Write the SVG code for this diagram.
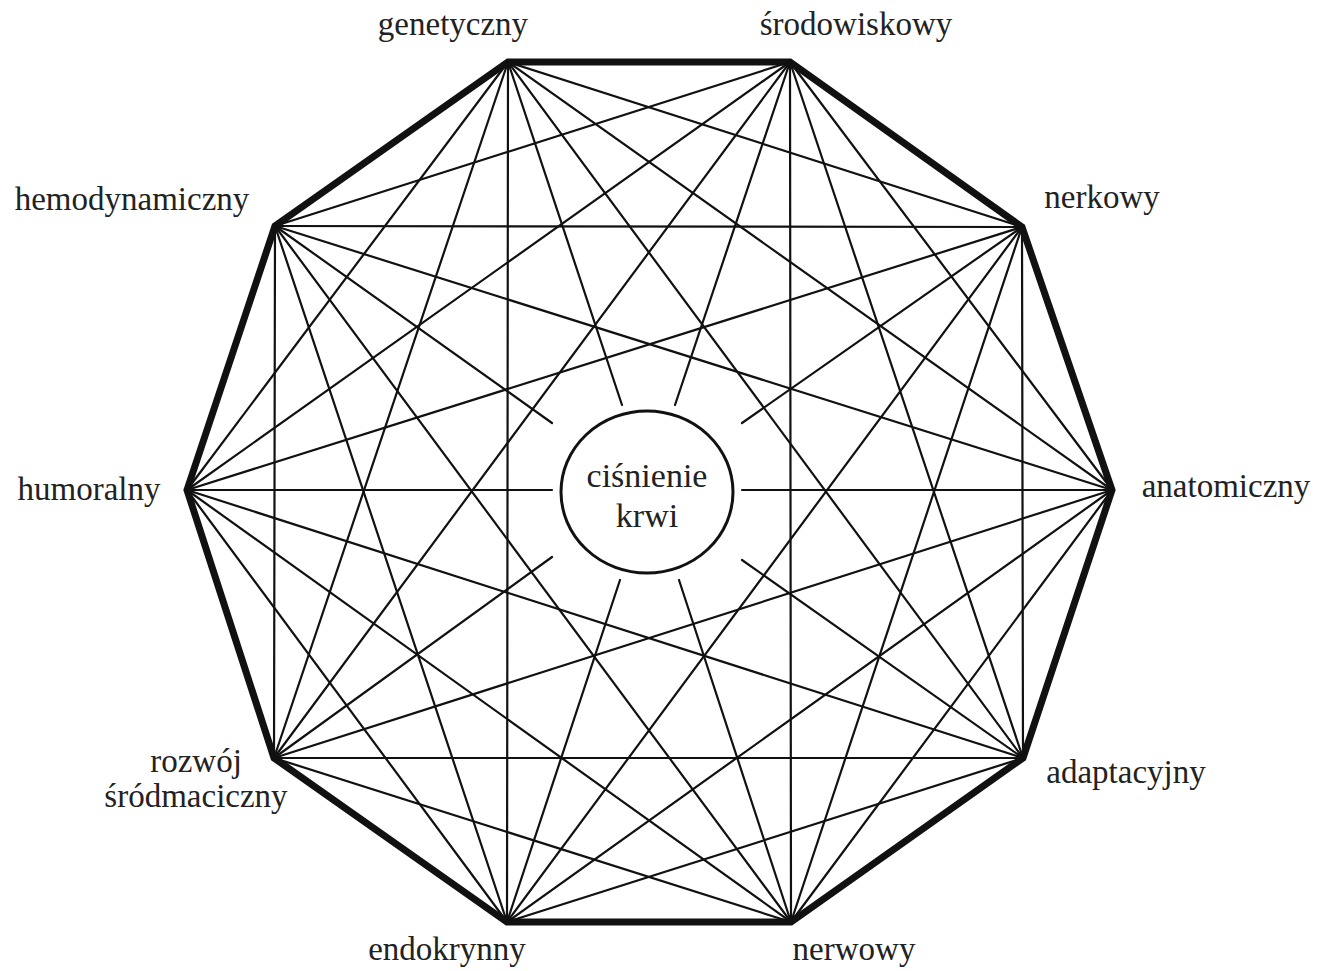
<svg xmlns="http://www.w3.org/2000/svg" width="1323" height="971" viewBox="0 0 1323 971">
<style>
.lbl{font-family:"Liberation Serif","Times New Roman",serif;font-size:33px;fill:#222;text-anchor:middle}
.c{font-size:34px}
.thin{stroke:#111;stroke-width:2.2;fill:none;stroke-linecap:round}
.thick{stroke:#111;stroke-width:7;fill:none;stroke-linejoin:miter}
</style>
<rect width="1323" height="971" fill="#fff"/>
<g id="connectors">
<polygon class="thick" points="508,62 790,62 1022,227 1112,490 1023,758 791,922 507,922 274,758 187,490 275,226"/>
<g class="thin">
<line x1="508" y1="62" x2="1022" y2="227"/>
<line x1="790" y1="62" x2="1112" y2="490"/>
<line x1="1022" y1="227" x2="1023" y2="758"/>
<line x1="1112" y1="490" x2="791" y2="922"/>
<line x1="1023" y1="758" x2="507" y2="922"/>
<line x1="791" y1="922" x2="274" y2="758"/>
<line x1="507" y1="922" x2="187" y2="490"/>
<line x1="274" y1="758" x2="275" y2="226"/>
<line x1="187" y1="490" x2="508" y2="62"/>
<line x1="275" y1="226" x2="790" y2="62"/>
<line x1="508" y1="62" x2="1112" y2="490"/>
<line x1="790" y1="62" x2="1023" y2="758"/>
<line x1="1022" y1="227" x2="791" y2="922"/>
<line x1="1112" y1="490" x2="507" y2="922"/>
<line x1="1023" y1="758" x2="274" y2="758"/>
<line x1="791" y1="922" x2="187" y2="490"/>
<line x1="507" y1="922" x2="275" y2="226"/>
<line x1="274" y1="758" x2="508" y2="62"/>
<line x1="187" y1="490" x2="790" y2="62"/>
<line x1="275" y1="226" x2="1022" y2="227"/>
<line x1="508" y1="62" x2="1023" y2="758"/>
<line x1="790" y1="62" x2="791" y2="922"/>
<line x1="1022" y1="227" x2="507" y2="922"/>
<line x1="1112" y1="490" x2="274" y2="758"/>
<line x1="1023" y1="758" x2="187" y2="490"/>
<line x1="791" y1="922" x2="275" y2="226"/>
<line x1="507" y1="922" x2="508" y2="62"/>
<line x1="274" y1="758" x2="790" y2="62"/>
<line x1="187" y1="490" x2="1022" y2="227"/>
<line x1="275" y1="226" x2="1112" y2="490"/>
<line x1="508" y1="62" x2="622" y2="405"/>
<line x1="791" y1="922" x2="679" y2="580"/>
<line x1="790" y1="62" x2="675" y2="405"/>
<line x1="507" y1="922" x2="620" y2="580"/>
<line x1="1022" y1="227" x2="742" y2="423"/>
<line x1="274" y1="758" x2="552" y2="557"/>
<line x1="1112" y1="490" x2="742" y2="490"/>
<line x1="187" y1="490" x2="552" y2="490"/>
<line x1="1023" y1="758" x2="742" y2="560"/>
<line x1="275" y1="226" x2="552" y2="423"/>
</g>
</g>
<g id="center">
<ellipse cx="647" cy="492" rx="86" ry="81" fill="#fff" stroke="#111" stroke-width="3"/>
<text class="lbl c" x="647" y="487">ciśnienie</text>
<text class="lbl c" x="647" y="527">krwi</text>
</g>
<g id="genetyczny"><text class="lbl" x="453" y="35">genetyczny</text></g>
<g id="srodowiskowy"><text class="lbl" x="856" y="35">środowiskowy</text></g>
<g id="nerkowy"><text class="lbl" x="1102" y="208">nerkowy</text></g>
<g id="anatomiczny"><text class="lbl" x="1226" y="497">anatomiczny</text></g>
<g id="adaptacyjny"><text class="lbl" x="1126" y="783">adaptacyjny</text></g>
<g id="nerwowy"><text class="lbl" x="854" y="960">nerwowy</text></g>
<g id="endokrynny"><text class="lbl" x="447" y="960">endokrynny</text></g>
<g id="rozwoj"><text class="lbl" x="196" y="772">rozwój</text><text class="lbl" x="196" y="807">śródmaciczny</text></g>
<g id="humoralny"><text class="lbl" x="89" y="500">humoralny</text></g>
<g id="hemodynamiczny"><text class="lbl" x="132" y="210">hemodynamiczny</text></g>
</svg>
